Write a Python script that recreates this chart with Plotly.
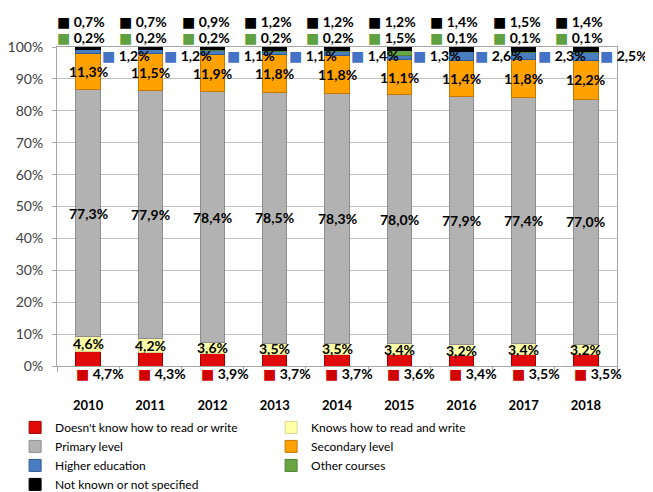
import plotly.graph_objects as go

years = ["2010", "2011", "2012", "2013", "2014", "2015", "2016", "2017", "2018"]
dont_know = [4.7, 4.3, 3.9, 3.7, 3.7, 3.6, 3.4, 3.5, 3.5]
knows = [4.6, 4.2, 3.6, 3.5, 3.5, 3.4, 3.2, 3.4, 3.2]
primary = [77.3, 77.9, 78.4, 78.5, 78.3, 78.0, 77.9, 77.4, 77.0]
secondary = [11.3, 11.5, 11.9, 11.8, 11.8, 11.1, 11.4, 11.8, 12.2]
higher = [1.2, 1.2, 1.1, 1.1, 1.4, 1.3, 2.6, 2.3, 2.5]
other = [0.2, 0.2, 0.2, 0.2, 0.2, 1.5, 0.1, 0.1, 0.1]
unknown = [0.7, 0.7, 0.9, 1.2, 1.2, 1.2, 1.4, 1.5, 1.4]
y_ticks = [0, 10, 20, 30, 40, 50, 60, 70, 80, 90, 100]
y_ticklabels = ["0%", "10%", "20%", "30%", "40%", "50%", "60%", "70%", "80%", "90%", "100%"]

names = ["Doesn't know how to read or write", "Knows how to read and write",
         "Primary level", "Secondary level", "Higher education",
         "Other courses", "Not known or not specified"]
colors = ["#E00A0A", "#FFFFA8", "#B2B2B2", "#FFA200", "#4A7CC0", "#6AA544", "#000000"]
edges = ["#A00000", "#D8D890", "#8E8E8E", "#C87800", "#2F5A93", "#4E8030", "#000000"]
legend_sym = ["#D00000", "#FFFF99", "#A6A6A6", "#F59B00", "#4472C4", "#5FA040", "#000000"]
data = [dont_know, knows, primary, secondary, higher, other, unknown]

FONT = "Lato, DejaVu Sans, sans-serif"

def fmt(v):
    return f"{v:.1f}".replace(".", ",") + "%"

fig = go.Figure()
for name, vals, col, edge in zip(names, data, colors, edges):
    fig.add_bar(x=years, y=vals, name=name,
                marker=dict(color=col, line=dict(color=edge, width=1)))

ann = []
def sq(col):
    return '<span style="color:' + col + '">■</span> '

for i, yr in enumerate(years):
    c1 = dont_know[i]
    c2 = c1 + knows[i]
    c3 = c2 + primary[i]
    # (y value, y pixel shift, text, xanchor, x pixel shift)
    items = [
        (0, -7.5, sq(legend_sym[0]) + fmt(dont_know[i]), "left", -14),
        (c1 + knows[i] / 2, 0, fmt(knows[i]), "center", 0),
        (c2 + primary[i] / 2, 0, fmt(primary[i]), "center", 0),
        (c3 + secondary[i] / 2, 0, fmt(secondary[i]), "center", 0),
        (97.3, 0, sq(legend_sym[4]) + fmt(higher[i]), "left", 12),
        (100, 10, sq(legend_sym[5]) + fmt(other[i]), "left", -33),
        (100, 26, sq(legend_sym[6]) + fmt(unknown[i]), "left", -33),
    ]
    for yv, ys, txt, xa, xs in items:
        ann.append(dict(x=i, y=yv, xref="x", yref="y", showarrow=False,
                        text="<b>" + txt + "</b>", xanchor=xa, xshift=xs, yshift=ys,
                        font=dict(family=FONT, size=14, color="black")))

fig.update_layout(
    width=645, height=484,
    margin=dict(l=49, r=36, t=39, b=126, autoexpand=False),
    barmode="stack", bargap=0.61,
    plot_bgcolor="white", paper_bgcolor="white",
    font=dict(family=FONT, size=13, color="black"),
    annotations=ann,
    legend=dict(orientation="h", x=0.011, y=0.1634, xref="container", yref="container",
                xanchor="left", yanchor="top",
                entrywidth=211, entrywidthmode="pixels", traceorder="normal",
                font=dict(family=FONT, size=12, color="black"),
                tracegroupgap=0, bgcolor="rgba(0,0,0,0)"),
    xaxis=dict(type="category", showline=True, linecolor="#A6A6A6", mirror=True,
               automargin=False,
               ticks="outside", tickson="boundaries", ticklen=5, tickcolor="#A6A6A6",
               ticklabelstandoff=27,
               tickfont=dict(family=FONT, size=13, color="black", weight="bold"),
               range=[-0.5, 8.5]),
    yaxis=dict(range=[0, 100], tickmode="array", tickvals=y_ticks, ticktext=y_ticklabels,
               automargin=False,
               showgrid=True, gridcolor="#C0C0C0", gridwidth=1,
               showline=True, linecolor="#A6A6A6", mirror=True,
               ticks="outside", ticklen=4, tickcolor="#A6A6A6",
               ticklabelstandoff=6,
               tickfont=dict(family=FONT, size=14, color="#404040"),
               zeroline=False),
)

fig.write_html("out.html")
